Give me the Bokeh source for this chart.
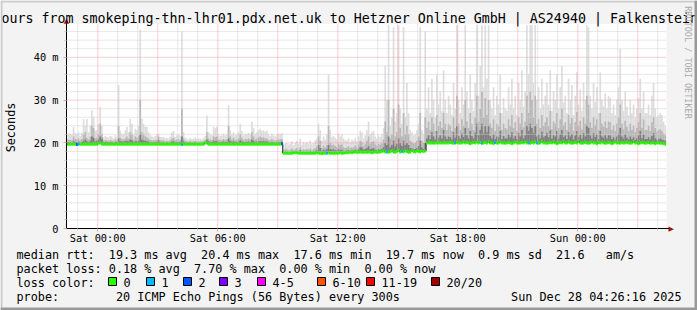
import math
from datetime import datetime, timedelta
from bokeh.plotting import figure
from bokeh.models import (Range1d, FixedTicker, DatetimeTickFormatter, Label,
                          BoxAnnotation, ColumnDataSource)
from bokeh.embed import file_html
from bokeh.resources import INLINE

# ------------------------------------------------------------------ data
title_text = "ours from smokeping-thn-lhr01.pdx.net.uk to Hetzner Online GmbH | AS24940 | Falkenstein"
y_axis_title = "Seconds"
watermark = "RRDTOOL / TOBI OETIKER"
t_start = datetime(2025, 12, 26, 22, 26, 16)
t_end = datetime(2025, 12, 28, 4, 26, 16)
first_step = datetime(2025, 12, 26, 22, 25, 0)
step_seconds = 300
x_label_times = [datetime(2025, 12, 27, 0), datetime(2025, 12, 27, 6), datetime(2025, 12, 27, 12),
                 datetime(2025, 12, 27, 18), datetime(2025, 12, 28, 0)]
y_ticks = [0, 10, 20, 30, 40]
y_tick_labels = ["0", "10 m", "20 m", "30 m", "40 m"]

# median rtt per 5-minute step (ms), one row per hour
median_rtt = [
    19.7, 19.7, 19.7, 19.7, 19.7, 19.7, 19.6, 19.7, 19.7, 19.7, 19.7, 19.7,
    19.7, 19.7, 19.7, 19.7, 19.7, 19.7, 19.7, 19.9, 20.0, 19.7, 19.7, 19.7,
    19.7, 19.7, 19.7, 19.7, 19.7, 19.7, 19.7, 19.7, 19.7, 19.7, 19.7, 19.7,
    19.7, 19.7, 19.7, 19.7, 19.7, 19.7, 19.7, 19.7, 19.7, 19.7, 19.7, 19.7,
    19.7, 19.7, 19.7, 19.7, 19.7, 19.7, 19.7, 19.7, 19.7, 19.7, 19.7, 19.7,
    19.7, 19.7, 19.7, 19.7, 19.7, 19.7, 19.7, 19.7, 19.7, 19.6, 19.7, 19.7,
    19.7, 19.7, 19.7, 19.7, 19.7, 19.7, 19.7, 19.7, 19.7, 19.7, 19.7, 20.0,
    20.0, 19.7, 19.7, 19.7, 19.7, 19.7, 19.7, 19.7, 19.7, 19.7, 19.7, 19.7,
    19.7, 19.7, 19.7, 19.7, 19.7, 19.7, 19.7, 19.7, 19.7, 19.7, 19.7, 19.7,
    19.7, 19.7, 19.7, 19.7, 19.7, 19.7, 19.7, 19.7, 19.7, 19.7, 19.7, 19.7,
    19.7, 19.7, 19.7, 19.7, 19.7, 19.7, 19.7, 19.7, 19.7, 19.8, 17.6, 17.6,
    17.6, 17.6, 17.6, 17.6, 17.7, 17.7, 17.7, 17.6, 17.6, 17.6, 17.6, 17.6,
    17.6, 17.6, 17.6, 17.6, 17.6, 17.6, 17.7, 17.6, 17.6, 17.5, 17.6, 17.6,
    17.6, 17.7, 17.6, 17.6, 17.6, 17.6, 17.6, 17.6, 17.7, 17.6, 17.6, 17.7,
    17.7, 17.7, 17.8, 17.7, 17.8, 17.9, 17.8, 17.8, 17.9, 17.8, 17.8, 17.8,
    17.8, 17.9, 17.8, 17.7, 17.8, 17.9, 17.8, 17.8, 17.9, 18.0, 18.1, 17.9,
    17.9, 17.8, 18.0, 18.1, 17.9, 17.8, 18.0, 18.2, 17.9, 18.0, 17.9, 18.1,
    18.0, 17.8, 17.9, 18.2, 18.0, 17.9, 18.1, 18.0, 17.9, 18.1, 18.0, 18.1,
    20.0, 20.0, 20.0, 20.0, 19.9, 20.0, 20.0, 20.0, 20.0, 20.0, 20.0, 20.0,
    20.0, 20.0, 20.1, 20.0, 19.9, 20.0, 20.1, 20.0, 20.0, 20.0, 20.2, 20.0,
    20.1, 20.0, 19.8, 20.0, 20.1, 20.0, 20.2, 20.0, 20.1, 19.9, 20.0, 20.1,
    20.0, 20.3, 20.0, 20.0, 19.8, 20.1, 20.0, 20.0, 20.2, 20.0, 20.0, 19.9,
    20.0, 20.1, 20.0, 19.8, 20.0, 20.2, 20.0, 19.9, 20.0, 20.1, 20.0, 20.2,
    20.0, 20.0, 19.9, 20.1, 20.0, 20.2, 20.0, 19.9, 20.0, 20.3, 20.0, 20.0,
    19.9, 20.0, 20.1, 20.0, 20.2, 20.0, 19.8, 20.0, 20.1, 20.0, 20.3, 20.0,
    20.0, 20.2, 20.0, 19.9, 20.0, 20.1, 20.0, 20.4, 20.0, 19.9, 20.0, 20.1,
    20.0, 19.9, 20.0, 20.2, 20.0, 20.0, 19.8, 20.1, 20.0, 20.2, 20.0, 19.9,
    20.0, 20.1, 20.0, 19.8, 20.0, 20.2, 20.0, 20.0, 19.9, 20.1, 20.0, 20.0,
    20.1, 20.0, 19.9, 20.0, 20.3, 20.0, 20.0, 19.8, 20.0, 20.1, 20.0, 19.9,
    20.0, 20.1, 19.9, 20.0, 20.0, 19.8, 20.0, 20.0, 19.9, 19.9, 19.8, 19.7,
]

# highest ping of each step (outer smoke)
smoke_max = [
    21.8, 22.2, 22.0, 21.9, 23.7, 22.3, 22.0, 22.5, 21.6, 22.4, 25.6, 24.0,
    25.6, 22.5, 24.0, 27.6, 26.0, 22.9, 23.0, 24.5, 28.4, 24.0, 21.4, 21.6,
    21.4, 21.2, 21.6, 21.5, 21.0, 21.8, 21.3, 33.5, 22.9, 22.2, 22.0, 22.9,
    23.7, 22.5, 25.6, 24.5, 22.0, 23.3, 23.0, 24.0, 46.5, 25.6, 24.5, 23.7,
    23.7, 22.5, 21.8, 21.5, 21.4, 21.6, 22.0, 22.2, 21.4, 21.3, 21.4, 21.0,
    21.2, 21.0, 21.5, 22.5, 22.8, 21.4, 21.8, 21.9, 21.6, 46.0, 22.5, 21.2,
    21.0, 20.8, 21.2, 20.9, 21.0, 21.3, 20.9, 21.1, 21.0, 20.8, 21.2, 21.6,
    26.4, 22.5, 22.0, 21.8, 23.7, 23.5, 23.7, 22.0, 21.6, 21.8, 22.2, 21.8,
    22.0, 28.8, 23.0, 22.0, 22.5, 21.8, 22.0, 22.5, 24.5, 22.8, 21.8, 22.2,
    22.0, 22.4, 22.0, 25.0, 23.5, 22.0, 22.5, 23.0, 23.3, 22.8, 23.0, 22.6,
    22.9, 22.0, 21.6, 22.2, 21.8, 21.5, 21.9, 22.2, 22.0, 22.3, 19.5, 19.8,
    20.0, 19.6, 19.8, 20.3, 19.5, 19.9, 20.5, 19.8, 21.0, 19.6, 20.2, 19.8,
    20.2, 19.8, 20.5, 19.7, 20.0, 20.6, 21.0, 24.5, 23.0, 20.5, 21.5, 20.8,
    22.0, 36.0, 23.0, 21.4, 21.6, 21.2, 20.8, 22.2, 21.5, 22.0, 21.0, 20.6,
    20.5, 21.0, 20.2, 20.8, 20.5, 21.2, 20.4, 21.5, 22.9, 22.5, 21.0, 21.8,
    23.0, 25.0, 22.0, 22.5, 22.8, 21.5, 21.0, 21.8, 21.4, 22.0, 23.5, 38.0,
    30.0, 47.5, 24.0, 26.0, 47.0, 25.0, 27.0, 47.5, 28.0, 24.5, 47.0, 26.0,
    34.0, 27.0, 23.0, 22.5, 21.8, 22.0, 23.0, 24.5, 47.0, 23.0, 22.0, 46.0,
    28.0, 33.0, 27.0, 35.0, 30.0, 26.0, 36.0, 29.0, 32.0, 27.5, 37.0, 30.0,
    27.0, 31.0, 29.0, 26.5, 34.0, 28.0, 47.5, 30.0, 27.0, 33.0, 29.0, 47.5,
    32.0, 28.0, 36.0, 30.0, 27.5, 34.0, 47.5, 31.0, 38.0, 47.5, 33.0, 47.5,
    35.0, 47.5, 30.0, 28.0, 33.0, 26.5, 31.0, 29.0, 36.0, 27.0, 30.5, 28.0,
    27.5, 33.0, 29.0, 35.0, 28.0, 31.0, 26.5, 34.0, 30.0, 37.0, 28.5, 32.0,
    47.5, 36.0, 47.5, 47.5, 34.0, 47.5, 30.0, 33.0, 28.0, 35.0, 29.0, 31.0,
    34.0, 29.0, 37.0, 27.5, 32.0, 30.0, 36.0, 28.0, 33.0, 38.0, 29.5, 31.0,
    27.0, 35.0, 30.0, 33.5, 26.5, 31.0, 36.5, 29.0, 32.5, 27.5, 34.0, 30.0,
    47.5, 47.0, 31.0, 28.0, 34.0, 29.5, 33.0, 27.0, 36.5, 30.0, 28.5, 31.6,
    28.0, 31.0, 30.5, 27.0, 29.0, 26.5, 30.0, 33.0, 42.0, 30.0, 27.5, 32.0,
    28.5, 26.5, 30.0, 27.0, 29.0, 26.0, 28.0, 30.5, 35.0, 28.0, 32.0, 27.0,
    27.0, 29.0, 26.5, 31.0, 34.0, 28.0, 26.0, 26.5, 27.0, 26.5, 25.0, 24.0,
]

# upper-middle pings (middle smoke band)
smoke_mid = [
    20.6, 20.8, 20.7, 20.6, 21.5, 20.9, 20.8, 21.0, 20.5, 20.9, 22.0, 22.5,
    21.2, 20.8, 21.5, 24.0, 23.5, 21.0, 21.2, 22.0, 24.5, 22.0, 20.6, 20.7,
    20.6, 20.5, 20.7, 20.6, 20.4, 20.8, 20.6, 24.0, 21.2, 20.9, 20.8, 21.0,
    21.5, 21.0, 22.5, 22.0, 20.8, 21.5, 21.2, 21.5, 30.0, 22.5, 22.0, 21.5,
    21.3, 21.0, 20.7, 20.6, 20.6, 20.7, 20.8, 21.5, 20.6, 20.6, 20.6, 20.4,
    20.5, 20.4, 20.6, 21.0, 21.2, 20.6, 20.8, 20.8, 20.7, 28.0, 21.0, 20.5,
    20.4, 20.3, 20.5, 20.3, 20.4, 20.5, 20.3, 20.4, 20.4, 20.3, 20.5, 20.7,
    22.5, 21.0, 20.8, 20.7, 21.5, 21.3, 21.5, 20.8, 20.6, 20.7, 20.9, 20.7,
    20.8, 24.0, 21.5, 20.8, 21.2, 20.7, 20.8, 21.0, 22.0, 21.2, 20.7, 20.9,
    20.8, 21.0, 20.8, 22.5, 21.5, 20.8, 21.0, 21.3, 21.5, 21.2, 21.3, 21.0,
    21.0, 20.7, 20.6, 20.9, 20.6, 20.5, 20.7, 20.8, 20.8, 20.9, 18.3, 18.5,
    18.5, 18.3, 18.4, 18.7, 18.3, 18.5, 18.8, 18.4, 19.0, 18.3, 18.6, 18.4,
    18.6, 18.4, 18.7, 18.3, 18.5, 18.8, 19.2, 21.5, 20.5, 18.8, 19.4, 18.9,
    19.5, 24.0, 20.0, 19.5, 19.6, 19.3, 19.0, 19.8, 19.5, 19.7, 19.0, 18.8,
    18.9, 19.2, 18.8, 19.0, 18.9, 19.4, 18.9, 19.6, 20.5, 20.2, 19.3, 19.8,
    20.5, 21.5, 19.8, 20.2, 20.4, 19.6, 19.4, 19.8, 19.6, 19.9, 20.8, 25.0,
    22.5, 30.0, 21.0, 22.0, 28.0, 21.5, 22.5, 29.0, 23.5, 21.5, 27.0, 22.0,
    24.0, 22.0, 20.5, 20.2, 19.8, 20.0, 20.5, 21.5, 27.0, 20.5, 20.0, 26.0,
    23.5, 25.0, 23.0, 26.0, 24.5, 22.8, 26.5, 24.0, 25.0, 23.5, 27.0, 24.5,
    23.0, 24.5, 24.0, 22.8, 26.0, 23.5, 31.0, 24.5, 23.0, 25.5, 24.0, 30.0,
    25.0, 23.5, 27.0, 24.5, 23.0, 26.0, 31.0, 25.0, 28.0, 32.0, 26.0, 30.5,
    26.5, 30.0, 24.5, 23.5, 25.5, 22.8, 24.5, 24.0, 27.0, 23.0, 24.5, 23.5,
    23.2, 25.5, 24.0, 26.5, 23.5, 24.8, 22.8, 26.0, 24.5, 27.0, 23.6, 25.0,
    31.0, 27.0, 32.0, 30.0, 26.0, 31.0, 24.5, 25.5, 23.5, 26.5, 24.0, 24.8,
    26.0, 24.0, 27.5, 23.2, 25.0, 24.5, 27.0, 23.5, 25.5, 28.0, 24.2, 24.8,
    23.0, 26.5, 24.5, 25.8, 22.8, 24.8, 27.2, 24.0, 25.2, 23.2, 26.0, 24.5,
    31.0, 29.0, 24.8, 23.5, 26.0, 24.2, 25.5, 23.0, 27.0, 24.5, 23.8, 25.0,
    23.5, 25.0, 24.8, 23.0, 24.0, 22.8, 24.5, 26.0, 29.0, 24.5, 23.2, 25.2,
    23.8, 22.8, 24.5, 23.0, 24.0, 22.5, 23.5, 24.8, 27.0, 23.5, 25.5, 23.0,
    23.0, 24.0, 22.8, 24.8, 26.0, 23.5, 22.6, 23.0, 23.2, 22.8, 22.2, 21.8,
]

# pings just above the median (dark core of the smoke)
smoke_core = [
    20.1, 20.2, 20.1, 20.0, 20.4, 20.2, 20.2, 20.3, 20.0, 20.2, 20.5, 20.8,
    20.4, 20.2, 20.5, 21.5, 21.2, 20.3, 20.5, 20.8, 21.5, 21.0, 20.2, 20.2,
    20.2, 20.1, 20.2, 20.2, 20.0, 20.2, 20.2, 21.0, 20.4, 20.3, 20.3, 20.4,
    20.5, 20.3, 20.8, 20.6, 20.2, 20.4, 20.4, 20.5, 22.0, 20.8, 20.6, 20.5,
    20.4, 20.3, 20.1, 20.1, 20.1, 20.2, 20.2, 20.6, 20.1, 20.1, 20.1, 20.0,
    20.1, 20.0, 20.1, 20.3, 20.4, 20.1, 20.2, 20.2, 20.2, 21.5, 20.3, 20.1,
    20.0, 20.0, 20.1, 20.0, 20.0, 20.1, 20.0, 20.0, 20.0, 20.0, 20.1, 20.2,
    20.8, 20.4, 20.2, 20.2, 20.5, 20.4, 20.5, 20.2, 20.1, 20.2, 20.3, 20.2,
    20.2, 21.0, 20.5, 20.2, 20.4, 20.2, 20.2, 20.3, 20.6, 20.3, 20.2, 20.2,
    20.2, 20.3, 20.2, 20.8, 20.5, 20.2, 20.3, 20.4, 20.4, 20.3, 20.4, 20.3,
    20.3, 20.1, 20.1, 20.2, 20.1, 20.0, 20.2, 20.2, 20.2, 20.3, 17.9, 18.0,
    18.0, 17.9, 17.9, 18.1, 17.9, 18.0, 18.1, 17.9, 18.3, 17.9, 18.0, 17.9,
    18.0, 17.9, 18.1, 17.9, 18.0, 18.1, 18.3, 19.5, 18.8, 18.1, 18.4, 18.2,
    18.5, 19.5, 18.6, 18.4, 18.5, 18.3, 18.2, 18.5, 18.3, 18.4, 18.1, 18.0,
    18.2, 18.3, 18.1, 18.2, 18.2, 18.4, 18.2, 18.5, 19.0, 18.9, 18.4, 18.6,
    18.8, 19.2, 18.5, 18.7, 18.8, 18.4, 18.3, 18.5, 18.4, 18.6, 19.0, 20.0,
    19.5, 21.5, 19.0, 19.5, 20.5, 19.2, 19.8, 21.0, 20.0, 19.3, 20.5, 19.5,
    20.0, 19.5, 18.8, 18.7, 18.5, 18.6, 18.8, 19.3, 20.5, 18.9, 18.6, 20.0,
    21.0, 21.8, 20.9, 22.5, 21.5, 20.8, 22.8, 21.2, 21.8, 21.0, 23.0, 21.5,
    20.9, 21.5, 21.3, 20.8, 22.5, 21.2, 24.0, 21.6, 21.0, 22.2, 21.4, 23.5,
    21.8, 21.0, 22.8, 21.6, 21.0, 22.4, 24.5, 21.8, 23.0, 24.5, 22.2, 24.0,
    22.5, 24.0, 21.6, 21.0, 22.0, 20.9, 21.5, 21.3, 22.8, 20.9, 21.6, 21.1,
    21.0, 22.0, 21.3, 22.5, 21.0, 21.6, 20.9, 22.3, 21.5, 23.0, 21.1, 21.8,
    24.0, 22.8, 24.5, 23.5, 22.3, 24.0, 21.5, 22.0, 21.0, 22.6, 21.3, 21.6,
    22.4, 21.3, 22.9, 21.0, 21.8, 21.5, 22.8, 21.0, 22.0, 23.0, 21.4, 21.7,
    20.9, 22.5, 21.5, 22.1, 20.8, 21.7, 22.8, 21.3, 21.9, 21.0, 22.3, 21.5,
    24.0, 23.5, 21.7, 21.0, 22.3, 21.4, 22.0, 20.9, 22.8, 21.5, 21.2, 21.8,
    21.0, 21.8, 21.7, 20.9, 21.3, 20.8, 21.5, 22.2, 23.5, 21.5, 21.0, 22.0,
    21.2, 20.8, 21.5, 20.9, 21.3, 20.7, 21.1, 21.7, 22.8, 21.1, 22.0, 20.9,
    20.9, 21.3, 20.8, 21.6, 22.3, 21.1, 20.7, 20.9, 21.0, 20.8, 20.6, 20.5,
]

# steps with lost pings and how many of the 20 were lost
loss_steps = [6, 7, 69, 129, 156, 192, 201, 233, 249, 257, 277, 282]
loss_counts = [2, 1, 1, 2, 1, 1, 1, 1, 1, 1, 1, 1]

loss_classes = ["0", "1", "2", "3", "4-5", "6-10", "11-19", "20/20"]
loss_colors = ["#26ff00", "#00b8ff", "#0059ff", "#7e00ff", "#ff00ff", "#ff5500", "#ff0000", "#a10000"]
loss_upper = [0, 1, 2, 3, 5, 10, 19, 20]

legend_rtt = "median rtt:  19.3 ms avg  20.4 ms max  17.6 ms min  19.7 ms now  0.9 ms sd  21.6   am/s"
legend_loss = "packet loss: 0.18 % avg  7.70 % max  0.00 % min  0.00 % now"
legend_color_title = "loss color:"
legend_probe = "probe:        20 ICMP Echo Pings (56 Bytes) every 300s"
timestamp_text = "Sun Dec 28 04:26:16 2025"

# ------------------------------------------------------------------ layout constants
W, H = 697, 310
CHART_LEFT_PX = 66.0      # canvas x of the start of the time range
ZERO_Y_PX = 228.0         # canvas y of 0 ms
PX_PER_HOUR = 20.0
PX_PER_MS = 4.28
Y_TOP = 47.8              # top of the chart area (ms)
MONO = "DejaVu Sans Mono"
LEG_PX = 11.8
CHAR_W = 7.1
GRID_MINOR = "#CFCFCF"
GRID_MAJOR = "#F3A0A0"

def sx(px):  # canvas x -> screen x
    return px

def sy(py):  # canvas y (from top) -> screen y (from bottom)
    return H - py

epoch = datetime(1970, 1, 1)
def ms(dt):
    return (dt - epoch).total_seconds() * 1000.0

x_lo = t_start - timedelta(hours=CHART_LEFT_PX / PX_PER_HOUR)
x_hi = x_lo + timedelta(hours=W / PX_PER_HOUR)
y_lo = -(H - ZERO_Y_PX) / PX_PER_MS
y_hi = ZERO_Y_PX / PX_PER_MS

n = len(median_rtt)
step_starts = [first_step + timedelta(seconds=step_seconds * i) for i in range(n)]
centers = [s + timedelta(seconds=step_seconds / 2) for s in step_starts]

loss_per_step = [0] * n
for s, c in zip(loss_steps, loss_counts):
    loss_per_step[s] = c

def loss_color(c):
    for k, up in enumerate(loss_upper):
        if c <= up:
            return loss_colors[k]
    return loss_colors[-1]

line_colors = [loss_color(c) for c in loss_per_step]

src = ColumnDataSource(dict(x=centers, med=median_rtt, top1=smoke_max, top2=smoke_mid,
                            top3=smoke_core, col=line_colors))

p = figure(width=W, height=H, x_axis_type="datetime", output_backend="svg", toolbar_location=None,
           x_range=Range1d(x_lo, x_hi), y_range=Range1d(y_lo, y_hi), min_border=0,
           background_fill_color="#F3F3F3", border_fill_color="#F3F3F3", outline_line_color=None)
p.xgrid.visible = False
p.ygrid.visible = False

# white chart canvas
p.quad(left=[t_start], right=[t_end], bottom=[0], top=[Y_TOP], fill_color="white", line_color=None)

# smoke
bw = step_seconds * 1000.0
p.vbar(x="x", width=bw, bottom="med", top="top1", source=src, fill_color="#DDDDDD", line_color=None)
p.vbar(x="x", width=bw, bottom="med", top="top2", source=src, fill_color="#B7B7B7", line_color=None)
p.vbar(x="x", width=bw, bottom="med", top="top3", source=src, fill_color="#7E7E7E", line_color=None)

# grid (drawn over the smoke, as rrdtool does)
hours = [datetime(2025, 12, 26, 23) + timedelta(hours=k) for k in range(30)]
major_h = [h for h in hours if h.hour % 3 == 0]
minor_h = [h for h in hours if h.hour % 3 != 0]
minor_y = [v for v in range(2, 48, 2) if v % 10]
major_y = [10, 20, 30, 40]
p.segment(x0=minor_h, y0=[0] * len(minor_h), x1=minor_h, y1=[Y_TOP] * len(minor_h),
          line_color=GRID_MINOR, line_dash="1 1", line_width=1)
p.segment(x0=[t_start] * len(minor_y), y0=minor_y, x1=[t_end] * len(minor_y), y1=minor_y,
          line_color=GRID_MINOR, line_dash="1 1", line_width=1)
p.segment(x0=major_h, y0=[0] * len(major_h), x1=major_h, y1=[Y_TOP] * len(major_h),
          line_color=GRID_MAJOR, line_dash="1 1", line_width=1)
p.segment(x0=[t_start] * len(major_y), y0=major_y, x1=[t_end] * len(major_y), y1=major_y,
          line_color=GRID_MAJOR, line_dash="1 1", line_width=1)

# median line coloured by loss
p.step(x=step_starts, y=median_rtt, mode="after", line_color="#202020", line_width=1)
p.rect(x="x", y="med", width=bw, height=3, height_units="screen", source=src,
       fill_color="col", line_color=None)

# axes, drawn at fixed locations inside the canvas
xa = p.xaxis[0]
ya = p.yaxis[0]
xa.fixed_location = 0
xa.bounds = (ms(t_start), ms(t_end) + 4 * 3600000 / PX_PER_HOUR)
ya.fixed_location = ms(t_start)
ya.bounds = (0, Y_TOP + 0.3)
xa.ticker = FixedTicker(ticks=[ms(t) for t in x_label_times], minor_ticks=[ms(h) for h in minor_h])
fmt = "%a %H:%M"
xa.formatter = DatetimeTickFormatter(microseconds=fmt, milliseconds=fmt, seconds=fmt, minsec=fmt,
                                     minutes=fmt, hourmin=fmt, hours=fmt, days=fmt, months=fmt, years=fmt)
ya.ticker = FixedTicker(ticks=y_ticks, minor_ticks=minor_y)
ya.major_label_overrides = {t: l for t, l in zip(y_ticks, y_tick_labels)}
for ax in (xa, ya):
    ax.axis_line_color = "#000000"
    ax.axis_line_width = 1
    ax.major_label_text_font = MONO
    ax.major_label_text_font_size = "10.3px"
    ax.major_label_text_color = "#000000"
    ax.major_tick_in = 0
    ax.major_tick_out = 3
    ax.minor_tick_in = 0
    ax.minor_tick_out = 2
    ax.major_tick_line_color = GRID_MAJOR
    ax.minor_tick_line_color = GRID_MINOR
xa.major_label_standoff = 0
ya.major_label_standoff = 5

# axis arrows
p.add_layout(Label(x=sx(66), y=sy(20), x_units="screen", y_units="screen", text="\u25B2",
                   text_font="DejaVu Sans", text_font_size="7px", text_color="#A01010",
                   text_align="center", text_baseline="middle"))
p.add_layout(Label(x=sx(668), y=sy(ZERO_Y_PX), x_units="screen", y_units="screen", text="\u25B6",
                   text_font="DejaVu Sans", text_font_size="7px", text_color="#A01010",
                   text_align="left", text_baseline="middle"))

# title, unit, watermark
p.add_layout(Label(x=sx(1), y=sy(18), x_units="screen", y_units="screen", text=title_text,
                   text_font=MONO, text_font_size="13.3px", text_color="#000000",
                   text_align="left", text_baseline="middle"))
p.add_layout(Label(x=sx(10), y=sy(127), x_units="screen", y_units="screen", text=y_axis_title,
                   text_font=MONO, text_font_size="11.8px", text_color="#000000", angle=math.pi / 2,
                   text_align="center", text_baseline="middle"))
p.add_layout(Label(x=sx(687), y=sy(62), x_units="screen", y_units="screen", text=watermark,
                   text_font=MONO, text_font_size="8.5px", text_color="#AAAAAA", angle=-math.pi / 2,
                   text_align="center", text_baseline="middle"))

def tokens(line):
    out, i = [], 0
    while i < len(line):
        if line[i] == " ":
            i += 1
            continue
        j = i
        while j < len(line) and line[j] != " ":
            j += 1
        out.append((i, line[i:j]))
        i = j
    return out

def text_line(line, y_px, x0=16):
    for col, tok in tokens(line):
        p.add_layout(Label(x=sx(x0 + col * CHAR_W), y=sy(y_px), x_units="screen", y_units="screen",
                           text=tok, text_font=MONO, text_font_size=f"{LEG_PX}px",
                           text_color="#000000", text_align="left", text_baseline="middle"))

text_line(legend_rtt, 254)
text_line(legend_loss, 268)
text_line(legend_color_title, 282)
text_line(legend_probe, 296)
p.add_layout(Label(x=sx(681), y=sy(296), x_units="screen", y_units="screen", text=timestamp_text,
                   text_font=MONO, text_font_size=f"{LEG_PX}px", text_color="#000000",
                   text_align="right", text_baseline="middle"))

box_x = [108, 146, 183, 219, 257, 317, 366, 431]
for bx, lab, col in zip(box_x, loss_classes, loss_colors):
    p.add_layout(BoxAnnotation(left=sx(bx), right=sx(bx + 8), top=sy(277), bottom=sy(285),
                               left_units="screen", right_units="screen", top_units="screen",
                               bottom_units="screen", fill_color=col, fill_alpha=1.0,
                               line_color="#000000", line_width=1, line_alpha=1.0))
    p.add_layout(Label(x=sx(bx + 15), y=sy(282), x_units="screen", y_units="screen", text=lab,
                       text_font=MONO, text_font_size=f"{LEG_PX}px", text_color="#000000",
                       text_align="left", text_baseline="middle"))

# canvas shading border
for l, r, t, b, c in [(0, W, 0, 2, "#CBCBCB"), (0, 2, 0, H, "#CBCBCB"),
                      (W - 3, W, 0, H, "#999999"), (0, W, H - 3, H, "#999999")]:
    p.add_layout(BoxAnnotation(left=sx(l), right=sx(r), top=sy(t), bottom=sy(b),
                               left_units="screen", right_units="screen", top_units="screen",
                               bottom_units="screen", fill_color=c, fill_alpha=1.0, line_color=None))

open("out.html", "w").write(file_html(p, INLINE))
